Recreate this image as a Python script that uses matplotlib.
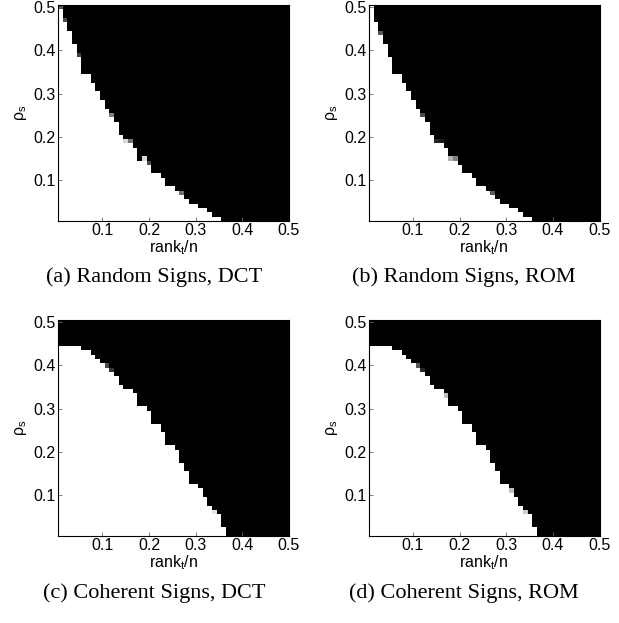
import numpy as np
import matplotlib
matplotlib.use("Agg")
import matplotlib.pyplot as plt

plt.rcParams['font.family'] = ['Liberation Sans', 'DejaVu Sans']

# grid: rank_t/n and rho_s both 0.01 .. 0.50
rank_vals = np.arange(1, 51) / 100.0
rho_vals = np.arange(1, 51) / 100.0

# number of fully recovered rows (from the bottom) in each column
edge_a = [49, 46, 44, 41, 38, 34, 34, 32, 30, 28, 26, 24, 23, 20, 18, 18, 17, 14, 14, 13,
          11, 11, 10, 8, 8, 7, 6, 5, 4, 4, 3, 3, 2, 1, 1] + [0] * 15
edge_b = [50, 46, 43, 41, 38, 34, 34, 32, 30, 28, 26, 24, 23, 20, 18, 18, 17, 14, 14, 13,
          11, 11, 10, 8, 8, 7, 6, 5, 4, 4, 3, 3, 2, 1, 1] + [0] * 15
edge_c = [44, 44, 44, 44, 44, 43, 43, 42, 41, 40, 39, 38, 37, 35, 34, 34, 33, 30, 30, 29,
          26, 26, 24, 21, 21, 20, 17, 15, 12, 12, 11, 9, 7, 5, 5, 2] + [0] * 14
edge_d = [44, 44, 44, 44, 44, 43, 43, 42, 41, 40, 39, 38, 37, 35, 34, 34, 32, 30, 30, 29,
          26, 26, 24, 21, 21, 20, 17, 15, 12, 12, 10, 9, 7, 5, 5, 2] + [0] * 14

# partially recovered cells: (column, row, fraction recovered), 1-based
part_a = [(1, 50, 0.3), (2, 47, 0.3), (5, 39, 0.25), (12, 25, 0.5), (15, 19, 0.85),
          (16, 19, 0.45), (19, 15, 0.85), (20, 14, 0.3), (27, 7, 0.45)]
part_b = [(3, 44, 0.35), (12, 25, 0.3), (15, 19, 0.15), (16, 19, 0.1), (18, 15, 0.7),
          (19, 15, 0.5), (27, 7, 0.35)]
part_c = [(11, 40, 0.3), (12, 39, 0.2), (34, 6, 0.9)]
part_d = [(11, 40, 0.35), (12, 39, 0.15), (17, 33, 0.75), (31, 11, 0.75), (34, 6, 0.8)]

captions = ["(a) Random Signs, DCT", "(b) Random Signs, ROM",
            "(c) Coherent Signs, DCT", "(d) Coherent Signs, ROM"]


def success_map(edge, part):
    m = np.zeros((len(rho_vals), len(rank_vals)))
    for k, h in enumerate(edge):
        m[:h, k] = 1.0
    for k, j, v in part:
        m[j - 1, k - 1] = v
    return m


W, H = 619, 623
fig = plt.figure(figsize=(W / 100, H / 100), dpi=100)

panels = [(edge_a, part_a), (edge_b, part_b), (edge_c, part_c), (edge_d, part_d)]
lefts = [58, 368.5, 58, 368.5]
tops = [5, 5, 320, 320]
cap_x = [154, 464, 154, 464]
cap_y = [277, 277, 593, 593]
aw, ah = 231, 216

for i, (edge, part) in enumerate(panels):
    ax = fig.add_axes([lefts[i] / W, 1 - (tops[i] + ah) / H, aw / W, ah / H])
    d = 0.005
    ax.imshow(success_map(edge, part), cmap='gray', vmin=0, vmax=1, origin='lower',
              interpolation='nearest', aspect='auto',
              extent=(rank_vals[0] - d, rank_vals[-1] + d, rho_vals[0] - d, rho_vals[-1] + d))
    ax.set_xlim(0.005, 0.5)
    ax.set_ylim(0.005, 0.505)
    ax.set_xticks([0.1, 0.2, 0.3, 0.4, 0.5])
    ax.set_yticks([0.1, 0.2, 0.3, 0.4, 0.5])
    ax.tick_params(direction='in', length=3, width=0.6, labelsize=11.5, pad=1.5, color='0.4')
    ax.set_xlabel('rank$_\\mathregular{t}$/n', fontsize=11.5, labelpad=0)
    ax.set_ylabel('ρ$_\\mathregular{s}$', fontsize=11.5, labelpad=3)
    for s in ax.spines.values():
        s.set_linewidth(0.8)
    fig.text(cap_x[i] / W, 1 - cap_y[i] / H, captions[i], ha='center', va='center',
             fontsize=16, family='Liberation Serif')

fig.savefig("out.png", dpi=100)
